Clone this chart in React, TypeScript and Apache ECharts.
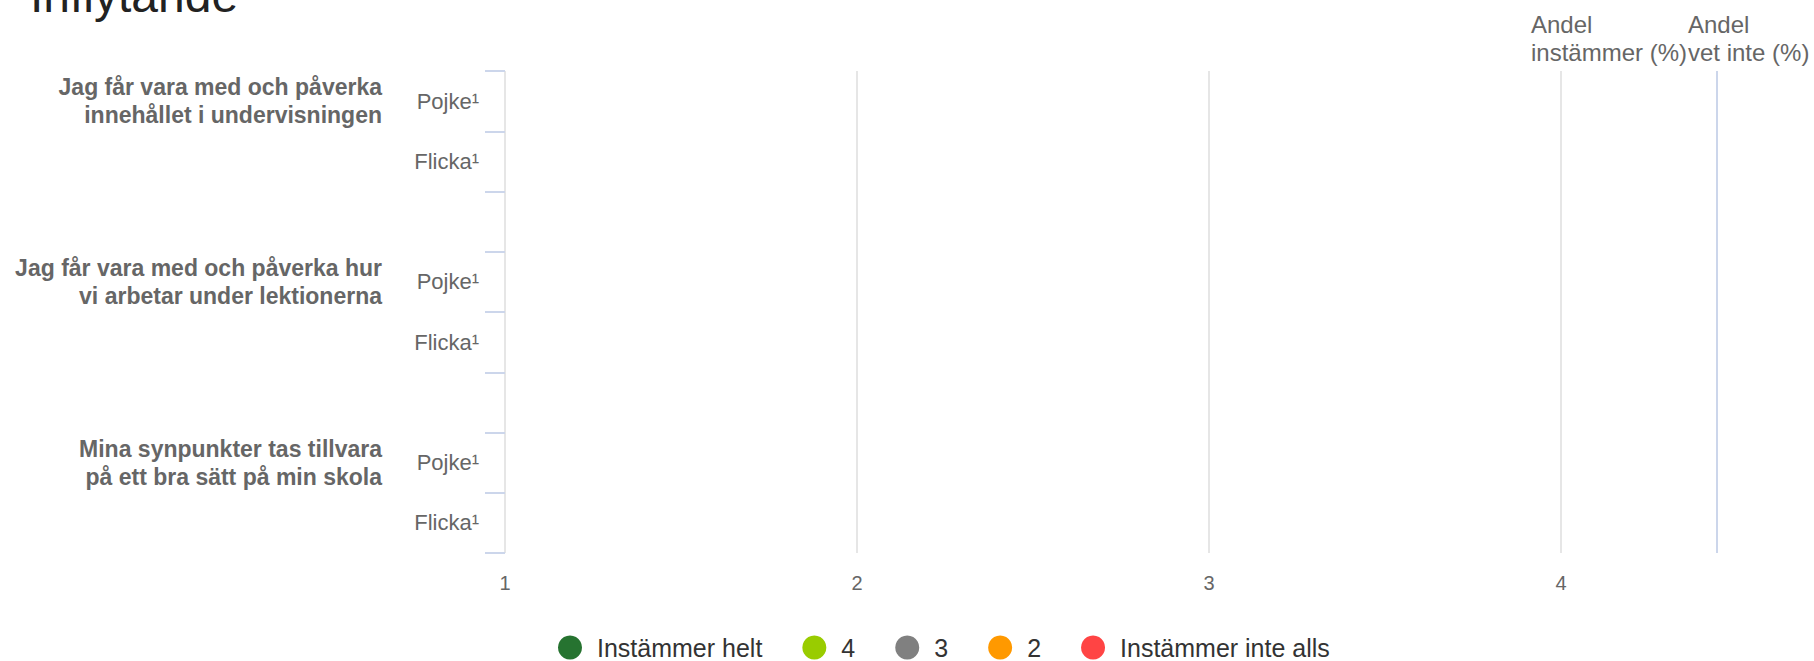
import React, { useEffect, useRef } from "react";
import * as echarts from "echarts";

const title = "Inflytande";
const rowLabels = ["Pojke¹", "Flicka¹", "", "Pojke¹", "Flicka¹", "", "Pojke¹", "Flicka¹"];
const groupLabels = [
  "Jag får vara med och påverka\ninnehållet i undervisningen",
  "",
  "",
  "Jag får vara med och påverka hur\nvi arbetar under lektionerna",
  "",
  "",
  "Mina synpunkter tas tillvara\npå ett bra sätt på min skola",
  "",
];
const seriesNames = ["Instämmer helt", "4", "3", "2", "Instämmer inte alls"];
const seriesColors = ["#267330", "#99cc00", "#808080", "#ff9900", "#ff4444"];
// no responses shown in the reference: every value is missing
const valuesHelt = [null, null, null, null, null, null, null, null];
const values4 = [null, null, null, null, null, null, null, null];
const values3 = [null, null, null, null, null, null, null, null];
const values2 = [null, null, null, null, null, null, null, null];
const valuesInteAlls = [null, null, null, null, null, null, null, null];
const seriesValues = [valuesHelt, values4, values3, values2, valuesInteAlls];
const xMin = 1;
const xMax = 4.443;
const headerLabels = ["Andel\ninstämmer (%)", "Andel\nvet inte (%)"];

const FONT = "'Liberation Sans', Arial, Helvetica, sans-serif";

export default function App() {
  const ref = useRef<HTMLDivElement>(null);
  useEffect(() => {
    if (!ref.current) return;
    const chart = echarts.init(ref.current, null, { renderer: "svg" });
    chart.setOption({
      animation: false,
      textStyle: { fontFamily: FONT },
      title: {
        text: title,
        left: 25,
        top: -34,
        textStyle: { fontSize: 48, fontWeight: "normal", color: "#222", fontFamily: FONT },
      },
      grid: { left: 505, right: 97, top: 71, bottom: 108, containLabel: false },
      legend: {
        left: 553,
        top: 630,
        icon: "circle",
        itemWidth: 24,
        itemHeight: 24,
        itemGap: 40,
        textStyle: { fontSize: 25, lineHeight: 24, color: "#333", fontFamily: FONT, padding: [0, 0, 0, 10] },
        data: seriesNames,
      },
      xAxis: {
        type: "value",
        min: xMin,
        max: xMax,
        interval: 1,
        axisLine: { show: false },
        axisTick: { show: false },
        axisLabel: { color: "#666", fontSize: 20, margin: 20, showMaxLabel: false, fontFamily: FONT },
        splitLine: {
          show: true,
          lineStyle: { color: ["#e6e6e6", "#e6e6e6", "#e6e6e6", "#e6e6e6", "#ccd6eb"], width: 2 },
        },
      },
      yAxis: [
        {
          type: "category",
          inverse: true,
          data: rowLabels,
          axisLine: { show: false },
          axisTick: { show: true, length: 20, lineStyle: { color: "#ccd6eb", width: 2 } },
          axisLabel: { color: "#666", fontSize: 22, margin: 26, interval: 0, fontFamily: FONT },
          splitLine: { show: false },
        },
        {
          type: "category",
          inverse: true,
          position: "left",
          offset: 115,
          data: groupLabels,
          axisLine: { show: false },
          axisTick: { show: false },
          axisLabel: {
            color: "#666",
            fontSize: 23,
            fontWeight: "bold",
            lineHeight: 28,
            margin: 8,
            interval: 0,
            align: "right",
            fontFamily: FONT,
          },
          splitLine: { show: false },
        },
      ],
      graphic: [
        {
          type: "text",
          left: 1531,
          top: 10,
          style: { text: headerLabels[0], fontSize: 24, lineHeight: 28, fill: "#666", fontFamily: FONT },
        },
        {
          type: "text",
          left: 1688,
          top: 10,
          style: { text: headerLabels[1], fontSize: 24, lineHeight: 28, fill: "#666", fontFamily: FONT },
        },
      ],
      series: seriesNames.map((name, i) => ({
        name,
        type: "bar",
        stack: "total",
        xAxisIndex: 0,
        yAxisIndex: 0,
        itemStyle: { color: seriesColors[i] },
        data: seriesValues[i],
      })),
    });
    return () => chart.dispose();
  }, []);
  return (
    <div
      ref={ref}
      style={{ position: "absolute", left: 0, top: 0, width: 1814, height: 661 }}
    />
  );
}
